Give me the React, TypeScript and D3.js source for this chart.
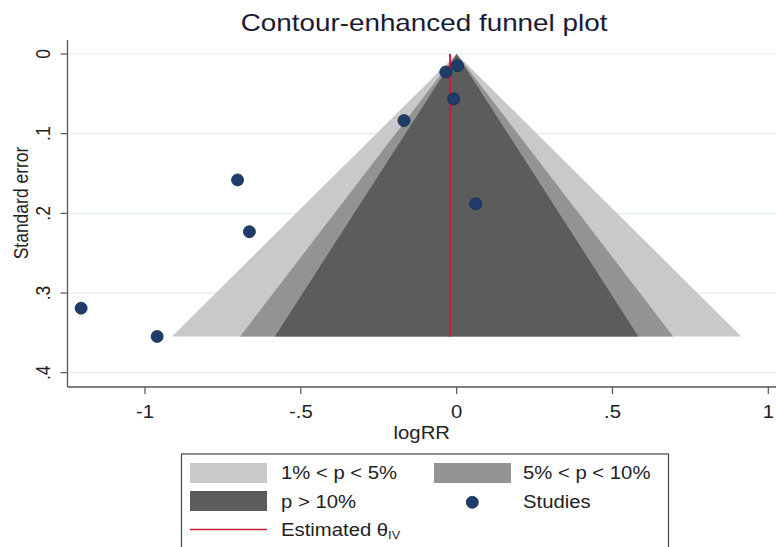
import React from "react";
import * as d3 from "d3";

const studyLogRR = [0.003, -0.035, -0.010, -0.169, -0.703, 0.061, -0.665, -1.205, -0.961];
const studySE = [0.0147, 0.0226, 0.0564, 0.0836, 0.158, 0.188, 0.223, 0.319, 0.3545];
const thetaIV = -0.021;
const xTicks = [-1, -0.5, 0, 0.5, 1];
const xTickLabels = ["-1", "-.5", "0", ".5", "1"];
const yTicks = [0, 0.1, 0.2, 0.3, 0.4];
const yTickLabels = ["0", ".1", ".2", ".3", ".4"];
const contourZ = [2.576, 1.96, 1.645];
const contourFill = ["#c9c9c9", "#939393", "#5c5c5c"];
const legendLabels = ["1% < p < 5%", "5% < p < 10%", "p > 10%", "Studies", "Estimated θ"];

const W = 776, H = 547;
const FONT = "'Liberation Sans', Arial, sans-serif";
const SX = 1.16;

function T(props: { x: number; y: number; size?: number; anchor?: string; fill?: string; children: React.ReactNode }) {
  const { x, y, size = 17.5, anchor = "start", fill = "#222", children } = props;
  return (
    <text transform={`translate(${x},${y}) scale(${SX},1)`} textAnchor={anchor} fontSize={size} fill={fill}>
      {children}
    </text>
  );
}

export default function App() {
  const x = d3.scaleLinear().domain([-1, 1]).range([145, 768.3]);
  const y = d3.scaleLinear().domain([0, 0.4]).range([54, 372.7]);
  const left = 67.5, bottom = 387, top = 40, right = 776;
  const seMax = d3.max(studySE) as number;

  const area = (z: number) => {
    const pts: [number, number][] = [
      [x(0), y(0)],
      [x(z * seMax), y(seMax)],
      [x(-z * seMax), y(seMax)],
    ];
    return d3.line()(pts) + "Z";
  };

  const navy = "#1f3d6b";
  const red = "#c41e3a";

  return (
    <svg width={W} height={H} style={{ position: "absolute", left: 0, top: 0, background: "#fff" }} fontFamily={FONT}>
      <rect width={W} height={H} fill="#fff" />
      <T x={424} y={31} size={24} anchor="middle" fill="#1a1a33">Contour-enhanced funnel plot</T>

      {yTicks.map((t) => (
        <line key={"g" + t} x1={left} x2={right} y1={y(t)} y2={y(t)} stroke="#e6eef0" strokeWidth={1.2} />
      ))}

      {contourZ.map((z, i) => (
        <path key={"c" + i} d={area(z)} fill={contourFill[i]} />
      ))}

      <line x1={x(thetaIV)} x2={x(thetaIV)} y1={y(0)} y2={y(seMax)} stroke={red} strokeWidth={2} />

      {studyLogRR.map((v, i) => (
        <circle key={"p" + i} cx={x(v)} cy={y(studySE[i])} r={6} fill={navy} stroke="#15294a" strokeWidth={0.8} />
      ))}

      <line x1={left} x2={left} y1={top} y2={bottom} stroke="#555" strokeWidth={1.3} />
      <line x1={left} x2={right} y1={bottom} y2={bottom} stroke="#555" strokeWidth={1.3} />
      {yTicks.map((t, i) => (
        <g key={"yt" + t}>
          <line x1={left - 7} x2={left} y1={y(t)} y2={y(t)} stroke="#555" strokeWidth={1.2} />
          <text transform={`translate(${50},${y(t)}) rotate(-90) scale(1,${SX})`} textAnchor="middle" fontSize={17.5} fill="#222">{yTickLabels[i]}</text>
        </g>
      ))}
      {xTicks.map((t, i) => (
        <g key={"xt" + t}>
          <line x1={x(t)} x2={x(t)} y1={bottom} y2={bottom + 7} stroke="#555" strokeWidth={1.2} />
          <T x={x(t)} y={418} anchor="middle">{xTickLabels[i]}</T>
        </g>
      ))}
      <T x={(left + right) / 2} y={439} anchor="middle">logRR</T>
      <text transform={`translate(${28},${203}) rotate(-90) scale(1,${SX})`} textAnchor="middle" fontSize={17.5} fill="#222">Standard error</text>

      <rect x={181.5} y={454} width={487} height={110} fill="#fff" stroke="#444" strokeWidth={1.2} />
      <rect x={190} y={463} width={77} height={20} fill={contourFill[0]} />
      <T x={281} y={479}>{legendLabels[0]}</T>
      <rect x={434} y={463} width={77} height={20} fill={contourFill[1]} />
      <T x={523} y={479}>{legendLabels[1]}</T>
      <rect x={190} y={491} width={77} height={20} fill={contourFill[2]} />
      <T x={281} y={508}>{legendLabels[2]}</T>
      <circle cx={472.3} cy={502.3} r={6} fill={navy} stroke="#15294a" strokeWidth={0.8} />
      <T x={523} y={508}>{legendLabels[3]}</T>
      <line x1={190} x2={267} y1={529.5} y2={529.5} stroke={red} strokeWidth={1.5} />
      <T x={281} y={536}>{legendLabels[4]}<tspan fontSize={11} dy={3}>IV</tspan></T>
    </svg>
  );
}
